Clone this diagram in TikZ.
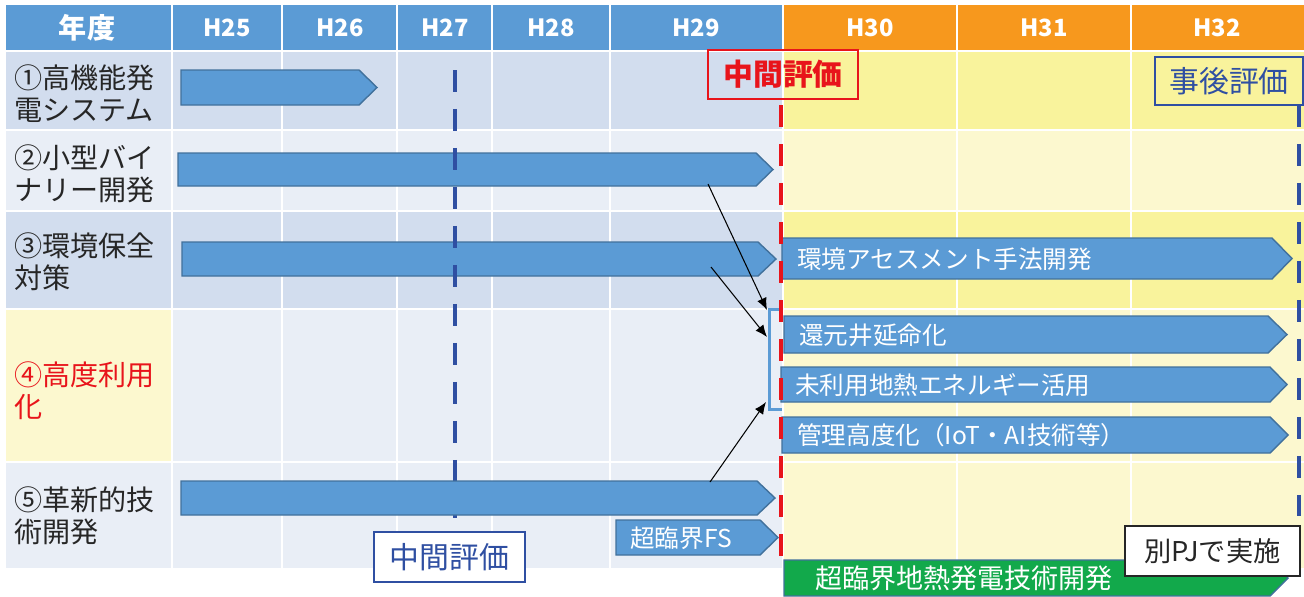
\documentclass[tikz,border=0pt]{standalone}
\usepackage{fontspec}
\setmainfont{Noto Sans CJK JP}
\usetikzlibrary{arrows.meta}
\definecolor{hdrb}{HTML}{5B9BD5}
\definecolor{hdro}{HTML}{F7981D}
\definecolor{dblu}{HTML}{D2DDEE}
\definecolor{lblu}{HTML}{E9EEF6}
\definecolor{dyel}{HTML}{F9F39C}
\definecolor{lyel}{HTML}{FCF8CF}
\definecolor{barb}{HTML}{5B9BD5}
\definecolor{bard}{HTML}{41719C}
\definecolor{grn}{HTML}{12A94B}
\definecolor{dblue}{HTML}{2F4FA2}
\definecolor{redc}{HTML}{E8141B}
\definecolor{txtc}{HTML}{262626}

\begin{document}
\begin{tikzpicture}[x=0.02cm,y=-0.02cm,>={Latex[length=2.4mm,width=2mm]},
  grid/.style={white,line width=0.05cm},
  bar/.style={fill=barb,draw=bard,line width=0.8pt},
  gbar/.style={fill=grn,draw=bard,line width=0.8pt},
  bartxt/.style={anchor=west,inner sep=0pt,text=white,font=\fontsize{14}{16}\selectfont},
  lbl/.style={anchor=west,inner sep=0pt,align=left,text=txtc,font=\fontsize{16}{18.2}\selectfont},
  hdr/.style={text=white,inner sep=0pt,font=\bfseries\fontsize{13.5}{15}\selectfont},
  evbox/.style={draw,line width=0.7pt,inner sep=0pt,font=\fontsize{17}{19}\selectfont},
  dsh/.style={line width=0.08cm,dash pattern=on 0.44cm off 0.34cm}]
  \useasboundingbox (0,0) rectangle (1304,596);
  % celdas
  \fill[hdrb] (6,5) rectangle (783,50);
  \fill[hdro] (783,5) rectangle (1304,50);
  \foreach \ya/\yb/\cl/\cr in {52/129/dblu/dyel,131/210/lblu/lyel,212/308/dblu/dyel,310/461/lblu/lyel,463/568/lblu/lyel}{
    \fill[\cl] (6,\ya) rectangle (783,\yb);
    \fill[\cr] (783,\ya) rectangle (1304,\yb);
  }
  \fill[lyel] (6,310) rectangle (172,461);
  \foreach \x in {172,282,397,492,610,783,957,1131}
    \draw[grid] (\x,5) -- (\x,568);
  \foreach \y in {51,130,211,309,462}
    \draw[grid] (6,\y) -- (1304,\y);
  % cabecera
  \node[hdr,font=\bfseries\fontsize{16}{18}\selectfont] (h0) at (87,28) {年度};
  \foreach \x/\t [count=\i] in {227/H25,340/H26,445/H27,551/H28,696/H29,870/H30,1044/H31,1217/H32}
    \node[hdr] (h\i) at (\x,28) {\t};
  % temas
  \node[lbl] (r1) at (14,94) {①高機能発\\電システム};
  \node[lbl] (r2) at (14,174) {②小型バイ\\ナリー開発};
  \node[lbl] (r3) at (14,262) {③環境保全\\対策};
  \node[lbl,text=redc] (r4) at (14,391) {④高度利用\\化};
  \node[lbl] (r5) at (14,516) {⑤革新的技\\術開発};
  % barras H25-H29
  \draw[bar] (181,70) -- (359,70) -- (377,87.5) -- (359,105) -- (181,105) -- cycle;
  \draw[bar] (178,153) -- (756,153) -- (773,169.5) -- (756,186) -- (178,186) -- cycle;
  \draw[bar] (182,242) -- (758,242) -- (776,259) -- (758,276) -- (182,276) -- cycle;
  \draw[dsh,dblue] (455,70) -- (455,518);
  \draw[bar] (181,481) -- (757,481) -- (775,498) -- (757,515) -- (181,515) -- cycle;
  \draw[bar] (616,520) -- (760,520) -- (778,537.5) -- (760,555) -- (616,555) -- cycle;
  \node[bartxt] (fs) at (630,538) {超臨界FS};
  % barras H30-H32
  \draw[bar] (782,238) -- (1272,238) -- (1292,258.5) -- (1272,279) -- (782,279) -- cycle;
  \draw[bar] (784,316) -- (1268,316) -- (1287,334.5) -- (1268,353) -- (784,353) -- cycle;
  \draw[bar] (781,367) -- (1270,367) -- (1287,384.5) -- (1270,402) -- (781,402) -- cycle;
  \draw[bar] (782,417) -- (1270,417) -- (1288,435) -- (1270,453) -- (782,453) -- cycle;
  \node[bartxt] (b1) at (797,259) {環境アセスメント手法開発};
  \node[bartxt] (b2) at (799,335) {還元井延命化};
  \node[bartxt] (b3) at (795,385) {未利用地熱エネルギー活用};
  \node[bartxt] (b4) at (797,435) {管理高度化（IoT・AI技術等）};
  \draw[gbar] (784,560) -- (1270,560) -- (1288,578) -- (1270,596) -- (784,596) -- cycle;
  \node[bartxt,font=\fontsize{15.4}{17}\selectfont] (g1) at (815,578) {超臨界地熱発電技術開発};
  % corchete y flechas
  \draw[hdrb,line width=0.06cm] (782,309) -- (769,309) -- (769,409) -- (782,409);
  \coordinate (s1) at (708,184); \coordinate (e1) at (767,310);
  \coordinate (s2) at (711,267); \coordinate (e2) at (767,337);
  \coordinate (s3) at (710,482); \coordinate (e3) at (766,402);
  \draw[->,line width=0.6pt] (s1) -- (e1);
  \draw[->,line width=0.6pt] (s2) -- (e2);
  \draw[->,line width=0.6pt] (s3) -- (e3);
  % evaluaciones
  \draw[dsh,redc] (780.5,105) -- (780.5,556);
  \draw[dsh,dblue] (1299,105) -- (1299,516);
  \node[evbox,draw=redc,text=redc,font=\bfseries\fontsize{17}{19}\selectfont,
    minimum width=3cm,minimum height=0.98cm] (mid1) at (783,74.5) {中間評価};
  \node[evbox,draw=dblue,text=dblue,minimum width=2.96cm,minimum height=0.96cm] (post) at (1229,81) {事後評価};
  \node[evbox,draw=dblue,fill=white,text=dblue,minimum width=3.02cm,minimum height=1cm] (mid2) at (449.5,557) {中間評価};
  \node[evbox,draw=txtc,fill=white,text=txtc,font=\fontsize{15.5}{17}\selectfont,
    minimum width=3.5cm,minimum height=1cm] (bpj) at (1212.5,551) {別PJで実施};
\end{tikzpicture}
\end{document}
